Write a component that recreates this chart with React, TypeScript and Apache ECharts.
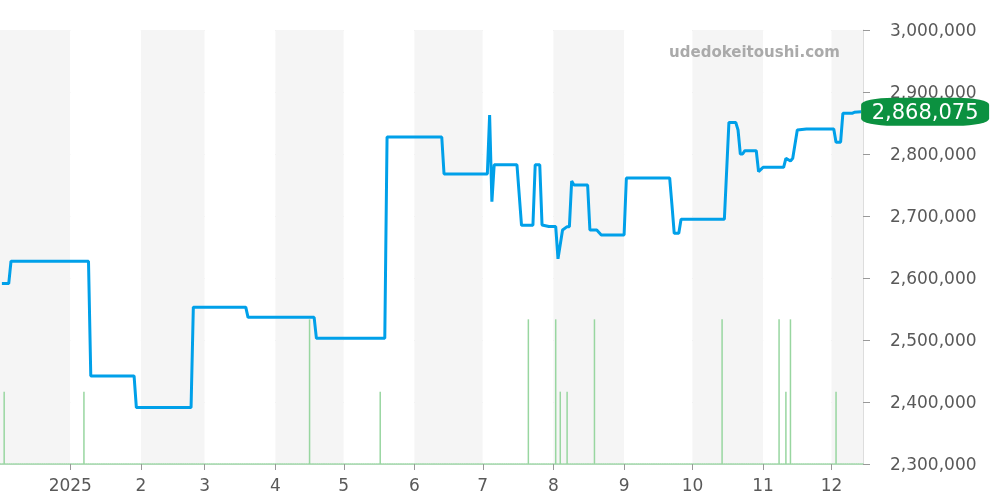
import React, { useEffect, useRef } from "react";
import * as echarts from "echarts";

const priceDates = [
  "2024-12-02", "2024-12-05", "2024-12-06", "2025-01-09", "2025-01-10", "2025-01-29", "2025-01-30",
  "2025-02-23", "2025-02-24", "2025-03-19", "2025-03-20", "2025-04-18", "2025-04-19", "2025-05-19",
  "2025-05-20", "2025-06-13", "2025-06-14", "2025-07-03", "2025-07-04", "2025-07-05", "2025-07-06",
  "2025-07-16", "2025-07-18", "2025-07-23", "2025-07-24", "2025-07-26", "2025-07-27", "2025-07-30",
  "2025-08-02", "2025-08-03", "2025-08-05", "2025-08-07", "2025-08-08", "2025-08-09", "2025-08-10",
  "2025-08-16", "2025-08-17", "2025-08-20", "2025-08-22", "2025-09-01", "2025-09-02", "2025-09-21",
  "2025-09-22", "2025-09-23", "2025-09-25", "2025-09-26", "2025-10-15", "2025-10-17", "2025-10-20",
  "2025-10-21", "2025-10-22", "2025-10-23", "2025-10-24", "2025-10-29", "2025-10-30", "2025-11-01",
  "2025-11-10", "2025-11-11", "2025-11-13", "2025-11-14", "2025-11-16", "2025-11-20", "2025-12-02",
  "2025-12-03", "2025-12-05", "2025-12-06", "2025-12-10", "2025-12-11", "2025-12-14",
];
const priceValues = [
  2591000, 2591000, 2627000, 2627000, 2442000, 2442000, 2391000,
  2391000, 2553000, 2553000, 2536500, 2536500, 2502700, 2502700,
  2827400, 2827400, 2767700, 2767700, 2863000, 2723000, 2782500,
  2782500, 2685000, 2685000, 2782700, 2782700, 2685500, 2683000,
  2683000, 2631000, 2677400, 2682800, 2682800, 2756400, 2750000,
  2750000, 2677400, 2677400, 2669400, 2669400, 2761300, 2761300,
  2718000, 2672000, 2672000, 2694700, 2694700, 2851000, 2851000,
  2838700, 2800000, 2800000, 2805300, 2805300, 2771500, 2778600,
  2778600, 2793100, 2788700, 2793000, 2838700, 2840300, 2840300,
  2819000, 2819000, 2865600, 2865600, 2867300, 2868075,
];

const volumeDates = [
  "2024-12-03", "2025-01-07", "2025-04-16", "2025-05-17", "2025-07-21", "2025-08-02", "2025-08-04",
  "2025-08-07", "2025-08-19", "2025-10-14", "2025-11-08", "2025-11-11", "2025-11-13", "2025-12-03",
];
const volumeValues = [1, 1, 2, 1, 2, 2, 1, 1, 2, 2, 2, 1, 2, 1];

const xMin = "2024-12-01T12:00:00";
const xMax = "2025-12-14T12:00:00";
const yTicks = { min: 2300000, max: 3000000, interval: 100000 };
const watermark = "udedokeitoushi.com";

const fmt = (v: number) => v.toLocaleString("en-US");

export default function App() {
  const ref = useRef<HTMLDivElement>(null);
  useEffect(() => {
    if (!ref.current) return;
    const chart = echarts.init(ref.current, null, { renderer: "svg" });
    const lastIdx = priceValues.length - 1;
    const DAY = 24 * 3600 * 1000;
    chart.setOption({
      animation: false,
      textStyle: { fontFamily: "DejaVu Sans" },
      grid: { left: 0, right: 137, top: 30, bottom: 36, containLabel: false },
      xAxis: {
        type: "time",
        min: xMin,
        max: xMax,
        minInterval: 28 * DAY,
        maxInterval: 31 * DAY,
        axisLine: { show: true, lineStyle: { color: "#9fd8a8", width: 1.5, type: [1.2, 1] } },
        axisTick: { show: true, length: 6, lineStyle: { color: "#999" } },
        axisLabel: {
          show: true,
          color: "#595959",
          fontSize: 17,
          margin: 12,
          showMinLabel: false,
          showMaxLabel: false,
          hideOverlap: false,
          formatter: (value: number) => {
            const d = new Date(value);
            return d.getMonth() === 0 ? String(d.getFullYear()) : String(d.getMonth() + 1);
          },
        },
        splitLine: { show: false },
        splitArea: { show: true, areaStyle: { color: ["#f5f5f5", "#ffffff"] } },
      },
      yAxis: [
        {
          type: "value",
          position: "right",
          min: yTicks.min,
          max: yTicks.max,
          interval: yTicks.interval,
          axisLine: { show: true, lineStyle: { color: "#dddddd" } },
          axisTick: { show: true, length: 7, lineStyle: { color: "#999" } },
          axisLabel: { color: "#595959", fontSize: 17, margin: 27, formatter: (v: number) => fmt(v) },
          splitLine: { show: true, lineStyle: { color: "#e0e0e0" } },
        },
        {
          type: "value",
          min: 0,
          max: 6,
          show: false,
          splitLine: { show: false },
        },
      ],
      graphic: [
        {
          type: "text",
          right: 160,
          top: 44,
          z: 100,
          zlevel: 0,
          style: { text: watermark, fontSize: 15, fontWeight: "bold", fill: "#aaaaaa", fontFamily: "DejaVu Sans" },
        },
      ],
      series: [
        {
          type: "bar",
          yAxisIndex: 1,
          barWidth: 1.5,
          itemStyle: { color: "#98d6a0" },
          data: volumeDates.map((d, i) => [d, volumeValues[i]]),
          z: 2,
        },
        {
          type: "line",
          data: priceDates.map((d, i) => [d, priceValues[i]]),
          showSymbol: false,
          lineStyle: { color: "#00a0e9", width: 3 },
          itemStyle: { color: "#00a0e9" },
          z: 3,
          markPoint: {
            symbol: "roundRect",
            symbolSize: [128, 28],
            symbolOffset: [64, 0],
            itemStyle: { color: "#0b9140", borderRadius: 14 },
            label: {
              show: true,
              color: "#ffffff",
              fontSize: 21,
              fontFamily: "DejaVu Sans",
              formatter: () => fmt(priceValues[lastIdx]),
            },
            data: [{ coord: [priceDates[lastIdx], priceValues[lastIdx]] }],
          },
        },
      ],
    });
    return () => chart.dispose();
  }, []);
  return <div ref={ref} style={{ position: "fixed", left: 0, top: 0, width: 1000, height: 500 }} />;
}
